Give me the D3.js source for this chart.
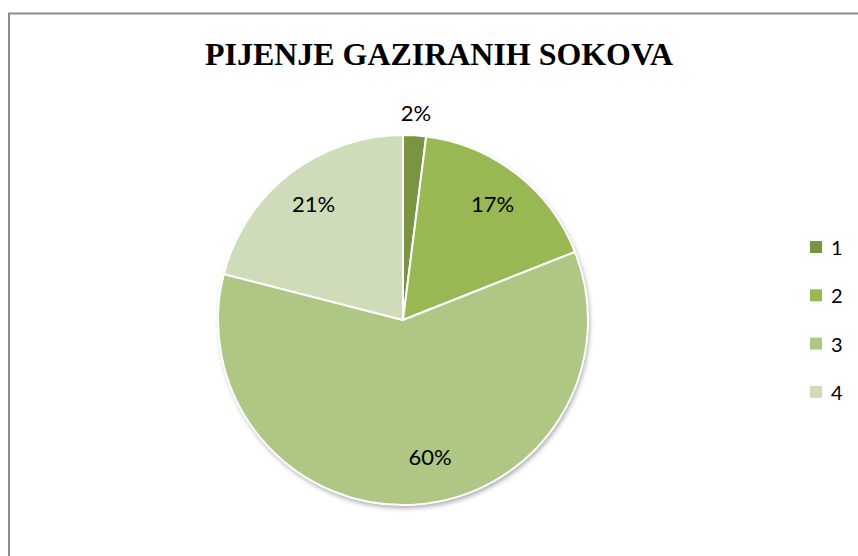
<!DOCTYPE html>
<html>
<head>
<meta charset="utf-8">
<script src="https://cdn.jsdelivr.net/npm/d3@7"></script>
<style>
  body { margin: 0; background: #fff; }
  svg { display: block; }
  .title { font-family: "Liberation Serif", "Times New Roman", Times, serif; font-weight: bold; font-size: 29px; }
  .lbl { font-family: Lato, "Open Sans", sans-serif; }
</style>
</head>
<body>
<svg class="chart" width="858" height="556"></svg>
<script>
var categories = ["1", "2", "3", "4"];
var values = [2, 17, 60, 21];
var colors = ["#7A9442", "#98B854", "#AEC784", "#CEDCB9"];
var title = "PIJENJE GAZIRANIH SOKOVA";

var width = 858,
    height = 556;

var chart = d3.select(".chart")
    .attr("width", width)
    .attr("height", height);

// outer frame (cut off at right and bottom like the original)
chart.append("rect")
    .attr("x", 9)
    .attr("y", 13.5)
    .attr("width", 900)
    .attr("height", 600)
    .attr("fill", "#fff")
    .attr("stroke", "#8c8c8c")
    .attr("stroke-width", 2);

var t = chart.append("text")
    .attr("class", "title")
    .attr("x", 439)
    .attr("y", 65)
    .attr("text-anchor", "middle")
    .text(title);

// fit the title to the width it has in the original
var tw = t.node().getComputedTextLength();
t.style("font-size", (29 * 468 / tw) + "px");

var defs = chart.append("defs");
var shadow = defs.append("filter")
    .attr("id", "shadow")
    .attr("x", "-20%").attr("y", "-20%")
    .attr("width", "140%").attr("height", "140%");
shadow.append("feDropShadow")
    .attr("dx", 1.5)
    .attr("dy", 3)
    .attr("stdDeviation", 2.5)
    .attr("flood-color", "#000")
    .attr("flood-opacity", 0.35);

var cx = 403, cy = 320, radius = 185;

var color = d3.scaleOrdinal()
    .domain(categories)
    .range(colors);

var pie = d3.pie()
    .sort(null)
    .value(function(d) { return d.value; });

var data = categories.map(function(c, i) {
  return { name: c, value: values[i] };
});

var arc = d3.arc().innerRadius(0).outerRadius(radius);
var labelArc = d3.arc().innerRadius(146).outerRadius(146);
var outerLabelArc = d3.arc().innerRadius(207).outerRadius(207);

var g = chart.append("g")
    .attr("transform", "translate(" + cx + "," + cy + ")");

// shadow disc behind the pie
g.append("circle")
    .attr("r", radius)
    .attr("fill", "#fff")
    .attr("filter", "url(#shadow)");

var arcs = pie(data);

g.selectAll(".slice")
    .data(arcs)
    .enter()
    .append("path")
    .attr("class", "slice")
    .attr("d", arc)
    .attr("fill", function(d) { return color(d.data.name); })
    .attr("stroke", "#fff")
    .attr("stroke-width", 2)
    .attr("stroke-linejoin", "round");

g.selectAll(".label")
    .data(arcs)
    .enter()
    .append("text")
    .attr("class", "label lbl")
    .attr("transform", function(d) {
      var p = (d.data.value < 5 ? outerLabelArc : labelArc).centroid(d);
      // the big slice label sits a little right of its centroid in the original
      if (d.data.value > 50) p = [p[0] + 18, p[1] - 8];
      return "translate(" + p[0] + "," + p[1] + ")";
    })
    .attr("dy", "0.35em")
    .attr("text-anchor", "middle")
    .style("font-size", "22px")
    .style("fill", "#000")
    .text(function(d) { return d.data.value + "%"; });

// legend
var legend = chart.append("g")
    .attr("transform", "translate(810,241)");

var item = legend.selectAll(".item")
    .data(categories)
    .enter()
    .append("g")
    .attr("class", "item")
    .attr("transform", function(d, i) { return "translate(0," + (i * 48.3) + ")"; });

item.append("rect")
    .attr("width", 12)
    .attr("height", 12)
    .attr("fill", function(d) { return color(d); });

item.append("text")
    .attr("class", "lbl")
    .attr("x", 21)
    .attr("y", 14)
    .style("font-size", "20px")
    .style("fill", "#000")
    .text(function(d) { return d; });
</script>
</body>
</html>
